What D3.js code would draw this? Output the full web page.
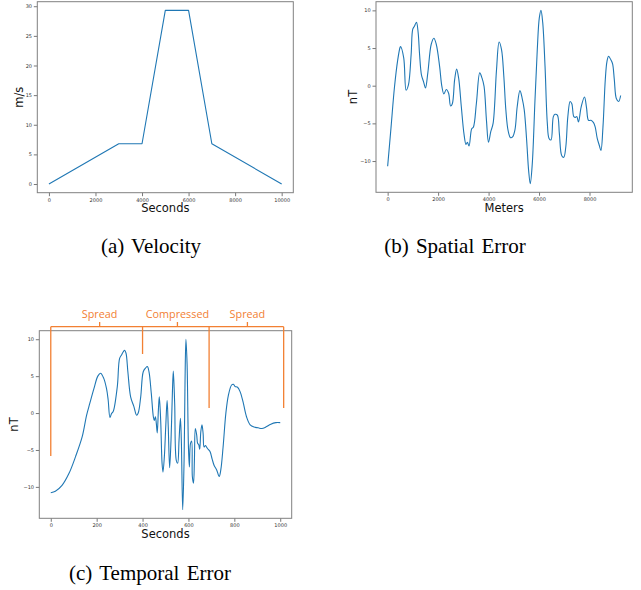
<!DOCTYPE html>
<html>
<head>
<meta charset="utf-8">
<script src="https://cdn.jsdelivr.net/npm/d3@7"></script>
<style>
    body { margin: 0; background: #fff; }
    svg text { font-family: 'DejaVu Sans', sans-serif; }
</style>
</head>
<body>
<script>
// (a) velocity profile
const velocitySeconds = [0, 3000, 4000, 5000, 6000, 7000, 10000]
const velocityMs = [0, 6.8, 6.8, 29.3, 29.3, 6.8, 0]

// (b) spatial error, [meters, nT]
const spatialError = [
    [0, -10.7], [135, -5.5], [267, -0.3], [398, 3.4], [493, 5.1], [510, 5.2], [637, 3.7],
    [732, -0.6], [824, 0.1], [930, 4.1], [995, 7.5], [1060, 7.9], [1142, 8.4], [1210, 7.0],
    [1262, 4.3], [1341, 1.4], [1421, 0.55], [1500, -0.3], [1592, 1.7], [1727, 5.5], [1831, 6.3],
    [1926, 5.5], [2058, 2.6], [2149, -0.1], [2229, -1.1], [2324, -0.5], [2416, -1.0], [2495, -2.7],
    [2563, -2.4], [2655, 0.8], [2734, 2.2], [2814, 1.0], [2920, -2.8], [3025, -6.4], [3105, -7.8],
    [3158, -7.5], [3225, -8.0], [3331, -5.7], [3397, -5.5], [3518, -2.3], [3650, 1.7], [3741, 1.0],
    [3821, -0.1], [3916, -4.6], [3996, -7.5], [4087, -6.1], [4179, -5.0], [4314, 2.1], [4418, 5.8],
    [4513, 4.8], [4605, 1.2], [4684, -3.2], [4776, -6.0], [4871, -6.9], [4951, -6.8], [5043, -5.9],
    [5134, -2.8], [5242, -0.65], [5333, -1.7], [5413, -3.2], [5508, -7.2], [5588, -11.3], [5652, -13.0],
    [5731, -10.4], [5839, -1.9], [5930, 4.8], [6010, 9.0], [6077, 10.0], [6145, 8.4], [6237, 2.6],
    [6328, -5.0], [6396, -7.0], [6475, -7.2], [6567, -4.1], [6635, -3.8], [6726, -3.9], [6806, -6.4],
    [6901, -9.3], [6981, -9.5], [7061, -8.1], [7141, -4.1], [7232, -2.1], [7299, -2.4], [7379, -4.1],
    [7443, -4.2], [7496, -4.1], [7562, -4.8], [7670, -2.8], [7801, -1.5], [7881, -2.9], [7960, -4.6],
    [8055, -4.6], [8159, -4.9], [8227, -5.5], [8306, -7.0], [8386, -7.9], [8453, -8.6], [8533, -5.5],
    [8625, 0.8], [8691, 3.2], [8756, 3.9], [8851, 3.4], [8915, 2.9], [8983, 0.8], [9063, -1.7],
    [9154, -2.1], [9234, -1.3]
]

// (c) temporal error, [seconds, nT]
const temporalError = [
    [0, -10.8], [20, -10.6], [49, -9.8], [79, -8.2], [108, -5.9], [137, -3.2], [156, -0.3],
    [170, 1.3], [188, 3.3], [205, 5.0], [217, 5.4], [231, 4.7], [243, 3.3], [250, 1.8],
    [258, -0.6], [265, -0.05], [272, 0.2], [290, 3.6], [300, 7.4], [309, 7.9], [316, 8.3],
    [322, 8.5], [328, 8.1], [336, 5.6], [348, 2.2], [362, 0.9], [374, -0.3], [381, 0],
    [392, 2.2], [403, 5.6], [413, 6.1], [421, 6.3], [428, 5.6], [438, 2.7], [447, -0.5],
    [451, -1.0], [456, -0.5], [460, -1.4], [464, -2.7], [469, 0.4], [473, 2.2], [479, -1.0],
    [485, -6.8], [489, -8.0], [495, -5.9], [501, -1.9], [507, 1.7], [512, -1.9], [518, -7.4],
    [524, -3.7], [530, 2.7], [534, 5.7], [540, 1.3], [547, -6.4], [553, -6.8], [559, -3.7],
    [565, -0.7], [569, -3.7], [575, -13.1], [581, -6.4], [585, 4.0], [589, 10.0], [594, 6.7],
    [600, -4.6], [604, -7.3], [609, -4.1], [614, -3.8], [617, -8.6], [622, -9.5], [626, -6.4],
    [630, -2.1], [636, -3.0], [640, -4.1], [645, -4.3], [649, -4.9], [654, -2.5], [659, -1.6],
    [664, -2.8], [668, -4.6], [674, -4.4], [683, -4.8], [694, -5.2], [703, -6.2], [712, -7.1],
    [723, -7.7], [734, -8.6], [741, -7.7], [751, -4.6], [763, -0.05], [774, 2.4], [788, 3.8],
    [796, 3.9], [803, 3.6], [814, 3.5], [825, 2.9], [838, 1.5], [853, -0.5], [869, -1.6],
    [886, -1.9], [904, -2.0], [920, -2.1], [937, -1.9], [959, -1.5], [981, -1.3], [1000, -1.3]
]

// bracket annotation over (c), in its data units
const bracketX = [0, 400, 690, 1015]
const bracketLow = [-5.8, 8.0, 0.7, 0.7]
const bracketTop = 11.7
const regionLabels = ['Spread', 'Compressed', 'Spread']
const regionLabelX = [213, 552, 857]

const velocityTicksX = [0, 2000, 4000, 6000, 8000, 10000]
const velocityTicksY = [0, 5, 10, 15, 20, 25, 30]
const spatialTicksX = [0, 2000, 4000, 6000, 8000]
const errorTicksY = [-10, -5, 0, 5, 10]
const temporalTicksX = [0, 200, 400, 600, 800, 1000]

const width = 641
const height = 590
const orange = '#f28033'

const svg = d3.select('body')
    .append('svg')
    .attr('width', width)
    .attr('height', height)

// matplotlib style 5% margins
const padded = ext => {
    const r = ext[1] - ext[0]
    return [ext[0] - 0.05 * r, ext[1] + 0.05 * r]
}

function drawPanel(cfg) {
    const b = cfg.box
    const x = d3.scaleLinear()
        .domain(padded(d3.extent(cfg.data, d => d[0])))
        .range([b.left, b.right])
    const y = d3.scaleLinear()
        .domain(padded(d3.extent(cfg.data, d => d[1])))
        .range([b.bottom, b.top])

    const g = svg.append('g')

    const fmt = d3.format('d')
    const xAxis = g.append('g')
        .attr('transform', `translate(0,${b.bottom})`)
        .call(d3.axisBottom(x).tickValues(cfg.xTicks).tickSize(3.5).tickPadding(1.8).tickFormat(fmt))
    const yAxis = g.append('g')
        .attr('transform', `translate(${b.left},0)`)
        .call(d3.axisLeft(y).tickValues(cfg.yTicks).tickSize(3.5).tickPadding(1.8).tickFormat(fmt))

    for (const ax of [xAxis, yAxis]) {
        ax.select('.domain').remove()
        ax.selectAll('line').attr('stroke', '#555').attr('stroke-width', 0.8)
        ax.selectAll('text')
            .attr('fill', '#333')
            .style('font-size', '5px')
            .style('font-family', 'DejaVu Sans, sans-serif')
    }

    g.append('path')
        .datum(cfg.data)
        .attr('fill', 'none')
        .attr('stroke', '#1f77b4')
        .attr('stroke-width', 1.1)
        .attr('stroke-linejoin', 'round')
        .attr('d', d3.line()
            .x(d => x(d[0]))
            .y(d => y(d[1]))
            .curve(cfg.curve))

    g.append('rect')
        .attr('x', b.left)
        .attr('y', b.top)
        .attr('width', b.right - b.left)
        .attr('height', b.bottom - b.top)
        .attr('fill', 'none')
        .attr('stroke', '#808080')
        .attr('stroke-width', 1)

    g.append('text')
        .attr('x', (b.left + b.right) / 2)
        .attr('y', b.bottom + 19.5)
        .attr('text-anchor', 'middle')
        .style('font-size', '11.5px')
        .attr('fill', '#111')
        .text(cfg.xLabel)

    g.append('text')
        .attr('transform', `translate(${cfg.yLabelX},${(b.top + b.bottom) / 2}) rotate(-90)`)
        .attr('text-anchor', 'middle')
        .style('font-size', '11.5px')
        .attr('fill', '#111')
        .text(cfg.yLabel)

    svg.append('text')
        .attr('x', cfg.caption.x)
        .attr('y', cfg.caption.y)
        .attr('text-anchor', 'middle')
        .style('font-family', 'Liberation Serif, Times New Roman, serif')
        .style('font-size', '21px')
        .style('word-spacing', '2px')
        .attr('fill', '#000')
        .text(cfg.caption.text)

    return {x, y, g}
}

drawPanel({
    box: {left: 37.3, right: 293.3, top: 1.7, bottom: 192.7},
    data: velocitySeconds.map((s, i) => [s, velocityMs[i]]),
    xTicks: velocityTicksX,
    yTicks: velocityTicksY,
    xLabel: 'Seconds',
    yLabel: 'm/s',
    yLabelX: 23,
    curve: d3.curveLinear,
    caption: {x: 151, y: 253, text: '(a) Velocity'}
})

drawPanel({
    box: {left: 376, right: 632.3, top: 1.7, bottom: 192.3},
    data: spatialError,
    xTicks: spatialTicksX,
    yTicks: errorTicksY,
    xLabel: 'Meters',
    yLabel: 'nT',
    yLabelX: 357,
    curve: d3.curveCatmullRom.alpha(0.5),
    caption: {x: 455, y: 253, text: '(b) Spatial Error'}
})

const temporal = drawPanel({
    box: {left: 39.3, right: 291.7, top: 330.7, bottom: 518.3},
    data: temporalError,
    xTicks: temporalTicksX,
    yTicks: errorTicksY,
    xLabel: 'Seconds',
    yLabel: 'nT',
    yLabelX: 18,
    curve: d3.curveCatmullRom.alpha(0.5),
    caption: {x: 150, y: 580, text: '(c) Temporal Error'}
})

// Spread / Compressed bracket
const tx = temporal.x
const ty = temporal.y
const ann = svg.append('g')
    .attr('stroke', orange)
    .attr('stroke-width', 1.3)
    .attr('fill', 'none')

ann.append('line')
    .attr('x1', tx(bracketX[0]))
    .attr('x2', tx(bracketX[bracketX.length - 1]))
    .attr('y1', ty(bracketTop))
    .attr('y2', ty(bracketTop))

ann.selectAll('.drop')
    .data(bracketX)
    .enter()
    .append('line')
    .classed('drop', true)
    .attr('x1', d => tx(d))
    .attr('x2', d => tx(d))
    .attr('y1', ty(bracketTop))
    .attr('y2', (d, i) => ty(bracketLow[i]))

ann.selectAll('.nub')
    .data(regionLabelX)
    .enter()
    .append('line')
    .classed('nub', true)
    .attr('x1', d => tx(d))
    .attr('x2', d => tx(d))
    .attr('y1', ty(bracketTop))
    .attr('y2', ty(bracketTop) - 4.7)

svg.selectAll('.region-label')
    .data(regionLabels)
    .enter()
    .append('text')
    .classed('region-label', true)
    .attr('x', (d, i) => tx(regionLabelX[i]))
    .attr('y', ty(bracketTop) - 8.5)
    .attr('text-anchor', 'middle')
    .style('font-family', 'Open Sans, Noto Sans, sans-serif')
    .style('font-size', '10.8px')
    .attr('fill', orange)
    .text(d => d)
</script>
</body>
</html>
